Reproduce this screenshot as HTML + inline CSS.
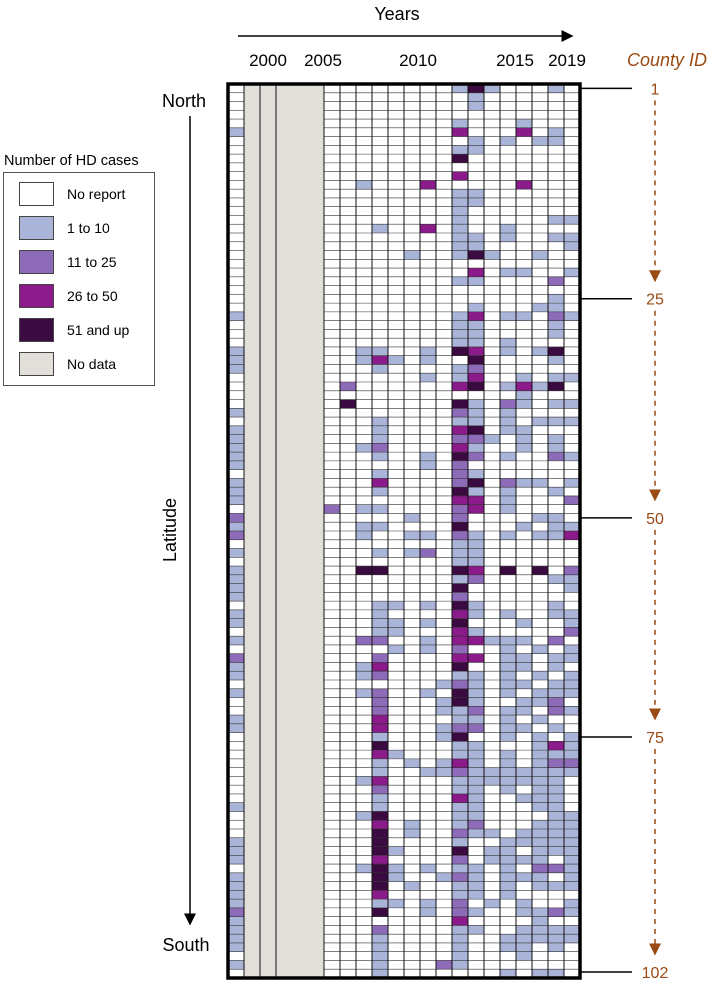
<!DOCTYPE html>
<html><head><meta charset="utf-8"><style>
body{margin:0;background:#fff;font-family:"Liberation Sans",sans-serif;}
svg text{font-family:"Liberation Sans",sans-serif;}
</style></head><body>
<svg id="chart" width="708" height="985" viewBox="0 0 708 985" xmlns="http://www.w3.org/2000/svg">
<defs>
<marker id="ah" markerWidth="8" markerHeight="8" refX="7" refY="4" orient="auto"><path d="M0,0 L8,4 L0,8 z" fill="#000"/></marker>
<marker id="ahb" markerWidth="8" markerHeight="8" refX="7" refY="4" orient="auto"><path d="M0,0 L8,4 L0,8 z" fill="#9a4a14"/></marker>
</defs>
<g id="cells"></g>
<g id="grid"></g>
<text x="397" y="20" font-size="18" text-anchor="middle">Years</text>
<line x1="238" y1="36" x2="572" y2="36" stroke="#000" stroke-width="1.5" marker-end="url(#ah)"/>
<g id="xticks"></g>
<text x="667" y="66" font-size="18" font-style="italic" fill="#9a4a14" text-anchor="middle">County ID</text>
<text x="184" y="107" font-size="18" text-anchor="middle">North</text>
<line x1="190" y1="116" x2="190" y2="924" stroke="#000" stroke-width="1.5" marker-end="url(#ah)"/>
<text x="0" y="0" font-size="18" text-anchor="middle" transform="translate(176,530) rotate(-90)">Latitude</text>
<text x="186" y="951" font-size="18" text-anchor="middle">South</text>
<g id="county"></g>
<g>
<text x="4" y="165" font-size="14.5">Number of HD cases</text>
<rect x="3.5" y="172.5" width="151" height="213" fill="#fff" stroke="#555"/>
<g id="legend"></g>
</g>
</svg>
<script>
const years = [1998,1999,2000,2001,2002,2003,2004,2005,2006,2007,2008,2009,2010,2011,2012,2013,2014,2015,2016,2017,2018,2019];
const noDataYears = [1999,2000,2001,2002,2003];
const yearTicks = [2000,2005,2010,2015,2019];
const countyTicks = [1,25,50,75,102];
const categories = ["No report","1 to 10","11 to 25","26 to 50","51 and up","No data"];
const catColors = ["#ffffff","#aab4d8","#8e6bb8","#8b1a8a","#3a0a40","#e2dfda"];
// each row: "yearIndex:category" entries (county 1 = north .. 102 = south)
const rows = [
"14:1,15:4,16:1,20:1","15:1","15:1","","14:1,18:1","0:1,14:3,18:3,20:1","15:1,17:1,19:1,20:1","14:1,15:1","14:4","",
"14:3","8:1,12:3,18:3","14:1,15:1","14:1,15:1","14:1","14:1,20:1,21:1","9:1,12:3,14:1,17:1","14:1,15:1,17:1,20:1,21:1","14:1,15:1,21:1","11:1,14:1,15:4,16:1,19:1",
"","15:3,17:1,18:1,21:1","14:1,15:1,20:2","","20:1","15:1,19:1,20:1","0:1,14:1,15:3,17:1,18:1,20:2,21:1","14:1,15:1,20:1","14:1,15:1,20:1","14:1,15:1,17:1",
"0:1,8:1,9:1,12:1,14:4,15:3,17:1,19:1,20:4","0:1,8:1,9:3,10:1,12:1,15:4,20:1","0:1,9:1,14:1,15:2","12:1,14:1,15:3,18:1,20:1,21:1","7:2,14:3,15:4,17:1,18:3,19:1,20:4","18:1","7:4,14:4,15:1,17:2,18:1,20:1,21:1","0:1,14:2,15:1,17:1","9:1,14:1,15:1,17:1,19:1,20:1,21:1","0:1,9:1,14:3,15:4,17:1,18:1",
"0:1,9:1,14:2,15:2,16:1,18:1,20:1","0:1,8:1,9:2,14:3,15:1,18:1,20:1","0:1,9:1,12:1,14:4,15:2,17:1,20:2,21:1","0:1,12:1,14:2","9:1,14:2,15:1","0:1,9:3,14:2,15:4,17:2,18:1,19:1,21:1","0:1,9:1,14:4,15:1,17:1,20:1","0:1,14:3,15:3,17:1,21:2","6:2,8:1,9:1,14:2,15:3,17:1","0:2,11:1,14:2,19:1,20:1",
"0:1,8:1,9:1,14:4,18:1,20:1,21:1","0:2,8:1,11:1,12:1,14:2,15:1,17:1,19:1,20:1,21:3","14:1,15:1","0:1,9:1,11:1,12:2,14:1,15:1","14:1,15:1","0:1,8:4,9:4,14:4,15:3,17:4,19:4,21:2","0:1,14:1,15:2,20:1,21:1","0:1,14:4,21:1","0:1,14:2","9:1,10:1,12:1,14:4,15:1,20:1",
"0:1,9:1,14:3,15:1,17:1,20:1,21:1","0:1,9:1,10:1,12:1,14:4,18:1,21:1","9:1,10:1,14:3,15:1,21:2","0:1,8:2,9:2,12:1,14:3,15:3,16:1,17:1,18:1,20:2","10:1,12:1,14:2,17:1,19:1,21:1","0:2,9:2,14:3,15:3,17:1,18:1,20:1,21:1","0:1,8:1,9:3,14:4,17:1,18:1,20:1","0:1,8:1,9:2,14:1,15:1,17:1,19:1,21:1","13:1,14:2,15:1,17:1,18:1,20:1,21:1","0:1,8:1,9:2,12:1,14:4,15:1,17:1,19:1,20:1,21:1",
"9:2,13:1,14:4,15:1,18:1,19:1,20:2","9:2,13:1,14:1,15:2,17:1,18:1,20:2,21:1","0:1,9:3,14:1,15:1,17:1,19:1","0:1,9:3,13:1,14:2,15:2,17:1,18:1,20:1","9:1,13:1,14:4,17:1,19:1,21:1","9:4,14:1,15:1,19:1,20:3,21:1","9:3,10:1,14:1,15:1,17:1,19:1,20:1,21:1","9:1,11:1,13:1,14:3,15:1,17:1,19:1,20:2,21:2","9:1,12:1,13:1,14:2,15:1,16:1,17:1,18:1,19:1,20:1,21:1","8:1,9:3,14:1,15:1,16:1,17:1,18:1,19:1,20:1",
"9:2,14:1,15:1,17:1,19:1,20:1","9:1,14:3,15:1,18:1,19:1,20:1","0:1,9:1,14:1,15:1,19:1,20:1","8:1,9:4,14:1,15:1,20:1,21:1","9:3,11:1,14:1,15:2,19:1,20:1,21:1","9:4,11:1,14:2,15:1,16:1,18:1,19:1,20:1,21:1","0:1,9:4,14:1,17:1,18:1,19:1,20:1,21:1","0:1,9:4,10:1,14:4,16:1,17:1,19:1,20:1,21:1","0:1,9:3,14:2,16:1,17:1,18:1,19:1,21:1","8:1,9:4,10:1,12:1,14:1,15:1,17:1,19:2,20:2,21:1",
"0:1,9:4,10:1,13:1,14:2,15:1,17:1,18:1,19:1,21:1","0:1,9:4,11:1,14:1,15:1,17:1,19:1,20:1,21:1","0:1,9:3,14:1,15:1,17:1","0:1,9:1,10:1,12:1,14:2,16:1,18:1,21:1","0:2,9:4,12:1,14:2,15:1,18:1,19:1,20:2,21:1","0:1,14:3,19:1","0:1,9:2,14:1,15:1,18:1,19:1,20:1,21:1","0:1,9:1,14:1,17:1,18:1,19:1,20:1,21:1","0:1,9:1,14:1,17:1,18:1,20:1","9:1,14:1,18:1",
"0:1,9:1,13:2,14:1","9:1,17:1,19:1,20:1"
];

const NS="http://www.w3.org/2000/svg";
const X0=228, CW=16, Y0=84, Y1=978;
const RH=(Y1-Y0)/rows.length;
const xOf=y=>X0+(years.indexOf(y))*CW;
const yOf=i=>Y0+i*RH;
function mk(tag,attrs,parent){const e=document.createElementNS(NS,tag);for(const k in attrs)e.setAttribute(k,attrs[k]);parent.appendChild(e);return e;}
const cells=document.getElementById('cells'), grid=document.getElementById('grid');
rows.forEach((r,i)=>{
  if(!r) return;
  r.split(',').forEach(p=>{
    const [c,v]=p.split(':').map(Number);
    const e=mk('rect',{x:xOf(years[c]),y:yOf(i),width:CW,height:RH,fill:catColors[v]},cells);
    
    
  });
});
const ndX0=xOf(noDataYears[0]), ndX1=xOf(noDataYears[noDataYears.length-1])+CW;
for(let i=1;i<rows.length;i++){
  mk('line',{x1:X0,x2:ndX0,y1:yOf(i),y2:yOf(i),stroke:'#333','stroke-width':0.6},grid);
  mk('line',{x1:ndX1,x2:X0+years.length*CW,y1:yOf(i),y2:yOf(i),stroke:'#333','stroke-width':0.6},grid);
}
const nd=mk('rect',{x:ndX0,y:Y0,width:ndX1-ndX0,height:Y1-Y0,fill:catColors[5]},grid);


for(let c=1;c<years.length;c++){
  const y=years[c];
  if(y>noDataYears[2] && y<=noDataYears[noDataYears.length-1]) continue;
  mk('line',{x1:X0+c*CW,x2:X0+c*CW,y1:Y0,y2:Y1,stroke:'#111','stroke-width':1},grid);
}
const frame=mk('rect',{x:X0,y:Y0,width:years.length*CW,height:Y1-Y0,fill:'none',stroke:'#000','stroke-width':3.5},grid);


const xt=document.getElementById('xticks');
const yearLabelOffset={2000:0,2005:-25,2010:-10,2015:7,2019:-5};
yearTicks.forEach(y=>{
  const t=mk('text',{x:xOf(y)+CW/2+yearLabelOffset[y],y:66,'font-size':17,'text-anchor':'middle'},xt);
  t.textContent=y;
  
  
});
const ct=document.getElementById('county');
countyTicks.forEach((c,k)=>{
  const yy=Math.min(yOf(c-1)+RH/2,Y1-6);
  mk('line',{x1:X0+years.length*CW,x2:632,y1:yy,y2:yy,stroke:'#000','stroke-width':1.5},ct);
  const t=mk('text',{x:655,y:yy+6,'font-size':16,fill:'#9a4a14','text-anchor':'middle'},ct);
  t.textContent=c;
  
  
  if(k<countyTicks.length-1){
    const yn=Math.min(yOf(countyTicks[k+1]-1)+RH/2,Y1-6);
    mk('line',{x1:655,x2:655,y1:yy+12,y2:yn-18,stroke:'#9a4a14','stroke-width':1.5,'stroke-dasharray':'5,5','marker-end':'url(#ahb)'},ct);
  }
});
const lg=document.getElementById('legend');
const legendOrder=[0,1,2,3,4,5];
legendOrder.forEach((ci,k)=>{
  const y=182+k*34;
  const s=mk('rect',{x:19.5,y:y+0.5,width:34,height:23,fill:catColors[ci],stroke:'#444'},lg);
  
  
  const t=mk('text',{x:67,y:y+17,'font-size':14},lg);
  t.textContent=categories[ci];
  
  
});
</script>
</body></html>
